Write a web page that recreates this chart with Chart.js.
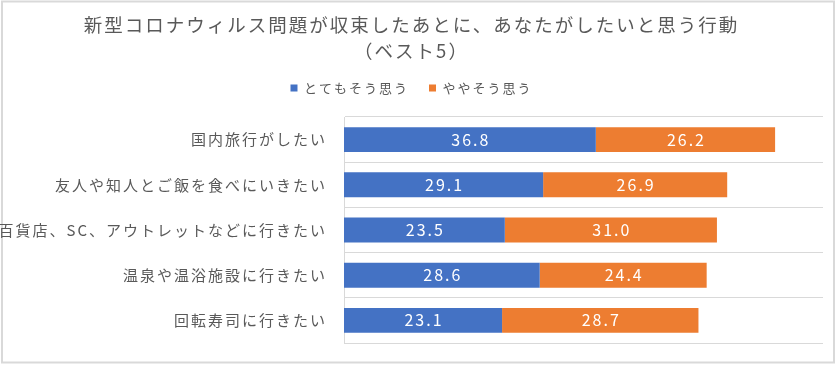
<!DOCTYPE html>
<html>
<head>
<meta charset="utf-8">
<script src="https://cdn.jsdelivr.net/npm/chart.js@4/dist/chart.umd.min.js"></script>
<style>
  html, body { margin: 0; padding: 0; background: #fff; }
  canvas { display: block; }
</style>
</head>
<body>
<canvas id="chart" width="840" height="369"></canvas>
<script>
const categories = [
  "国内旅行がしたい",
  "友人や知人とご飯を食べにいきたい",
  "百貨店、SC、アウトレットなどに行きたい",
  "温泉や温浴施設に行きたい",
  "回転寿司に行きたい"
]
const stronglyAgree = [36.8, 29.1, 23.5, 28.6, 23.1]
const somewhatAgree = [26.2, 26.9, 31.0, 24.4, 28.7]
const seriesNames = ["とてもそう思う", "ややそう思う"]
const titleLines = ["新型コロナウィルス問題が収束したあとに、あなたがしたいと思う行動", "（ベスト5）"]

const textColor = "#595959"
const gridColor = "#d9d9d9"

Chart.defaults.font.family = "'Noto Sans CJK JP', 'Noto Sans', sans-serif"
Chart.defaults.color = textColor

// spaced-out lettering like the original
const spacing = {
  id: "spacing",
  beforeUpdate(chart) { chart.ctx.letterSpacing = "2px" },
  beforeDraw(chart) { chart.ctx.letterSpacing = "2px" }
}

const frame = {
  id: "frame",
  beforeDraw(chart) {
    const ctx = chart.ctx
    ctx.save()
    ctx.fillStyle = "#fff"
    ctx.fillRect(0, 0, chart.width, chart.height)
    ctx.strokeStyle = gridColor
    ctx.lineWidth = 2
    ctx.strokeRect(2, 1.5, chart.width - 8, chart.height - 8)
    ctx.restore()
  }
}

const barLabels = {
  id: "barLabels",
  afterDatasetsDraw(chart) {
    const ctx = chart.ctx
    ctx.save()
    ctx.fillStyle = "#fff"
    ctx.font = "16px 'Noto Sans CJK JP', 'Noto Sans', sans-serif"
    ctx.textAlign = "center"
    ctx.textBaseline = "middle"
    chart.data.datasets.forEach((ds, i) => {
      chart.getDatasetMeta(i).data.forEach((bar, j) => {
        const { x, y, base } = bar.getProps(["x", "y", "base"], true)
        ctx.fillText(ds.data[j].toFixed(1), (x + base) / 2 + 1, y)
      })
    })
    ctx.restore()
  }
}

new Chart(document.getElementById("chart"), {
  type: "bar",
  data: {
    labels: categories,
    datasets: [
      { label: seriesNames[0], data: stronglyAgree, backgroundColor: "#4472c4" },
      { label: seriesNames[1], data: somewhatAgree, backgroundColor: "#ed7d31" }
    ]
  },
  options: {
    indexAxis: "y",
    responsive: false,
    animation: false,
    barPercentage: 0.55,
    categoryPercentage: 1,
    layout: { padding: { top: 0, left: 0, right: 17, bottom: 23 } },
    plugins: {
      title: {
        display: true,
        text: titleLines,
        color: textColor,
        font: { size: 18.5, weight: "normal", lineHeight: 26 / 18.5 },
        padding: { top: 12, bottom: -2.5 }
      },
      legend: {
        position: "top",
        labels: {
          boxWidth: 7,
          boxHeight: 7,
          padding: 20,
          color: textColor,
          font: { size: 13 }
        }
      },
      tooltip: { enabled: false }
    },
    scales: {
      x: {
        position: "top",
        stacked: true,
        min: 0,
        max: 70,
        ticks: { display: false },
        grid: { display: false, drawTicks: true, tickLength: 12.5 },
        border: { display: false }
      },
      y: {
        stacked: true,
        afterFit(scale) { scale.width = 344 },
        ticks: { color: textColor, padding: 17, font: { size: 15 } },
        grid: { color: gridColor, drawTicks: false },
        border: { color: gridColor }
      }
    }
  },
  plugins: [spacing, frame, barLabels]
})
</script>
</body>
</html>
